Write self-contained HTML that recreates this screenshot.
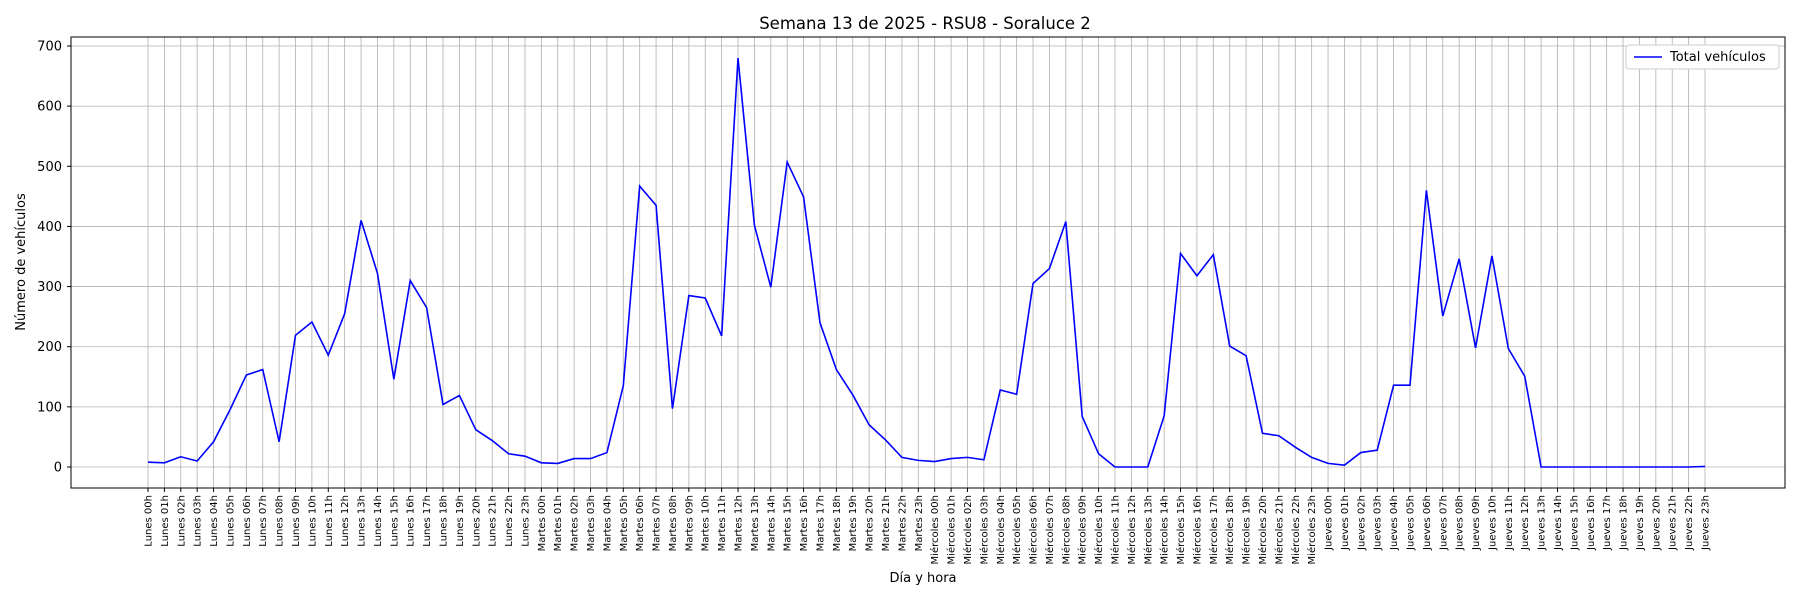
<!DOCTYPE html>
<html><head><meta charset="utf-8"><style>body{margin:0;background:#fff}svg{display:block;font-family:"DejaVu Sans","Liberation Sans",sans-serif}</style></head>
<body>
<svg id="chart" width="1800" height="600" viewBox="0 0 1800 600">
<rect width="1800" height="600" fill="#fff"/>
<text x="925" y="29" font-size="16.5" text-anchor="middle">Semana 13 de 2025 - RSU8 - Soraluce 2</text>
<g id="grid"></g><g id="xticks"></g><g id="yticks"></g>
<polyline id="line" fill="none" stroke="#0000ff" stroke-width="1.6"/>
<rect x="71" y="37" width="1714" height="451" fill="none" stroke="#000" stroke-width="1"/>
<text x="923" y="582" font-size="13" text-anchor="middle">Día y hora</text>
<text transform="translate(25,262) rotate(-90)" font-size="13" text-anchor="middle">Número de vehículos</text>
<g>
<rect x="1626" y="45" width="153" height="24" fill="#fff" stroke="#ccc" rx="3"/>
<line x1="1634" y1="57" x2="1662" y2="57" stroke="#0000ff" stroke-width="1.6"/>
<text x="1670" y="61" font-size="13">Total vehículos</text>
</g>
</svg>
<script>
const days = ["Lunes","Martes","Miércoles","Jueves"];
const values = [8,7,17,10,42,95,153,162,42,219,241,186,255,410,322,146,310,265,104,119,62,44,22,18,
7,6,14,14,24,135,467,435,97,285,281,218,680,402,299,507,449,240,162,120,70,45,16,11,
9,14,16,12,128,121,305,330,408,84,22,0,0,0,85,355,318,353,201,185,56,52,33,16,
6,3,24,28,136,136,460,251,346,198,351,197,151,0,0,0,0,0,0,0,0,0,0,1];
const yTicks = [0,100,200,300,400,500,600,700];
const labels = [];
days.forEach(d=>{for(let h=0;h<24;h++)labels.push(d+" "+String(h).padStart(2,"0")+"h");});
const NS="http://www.w3.org/2000/svg";
const x0=148,x1=1705,yz=467,y7=46;
const sx=i=>x0+(x1-x0)*i/(labels.length-1);
const sy=v=>yz+(y7-yz)*v/700;
const grid=document.getElementById("grid"),xt=document.getElementById("xticks"),yt=document.getElementById("yticks");
labels.forEach((l,i)=>{
 const x=sx(i);
 const g=document.createElementNS(NS,"line");
 
 
 g.setAttribute("x1",x);g.setAttribute("x2",x);g.setAttribute("y1",37);g.setAttribute("y2",488);g.setAttribute("stroke","#b0b0b0");g.setAttribute("stroke-width","0.8");grid.appendChild(g);
 const tk=document.createElementNS(NS,"line");
 
 
 tk.setAttribute("x1",x);tk.setAttribute("x2",x);tk.setAttribute("y1",488);tk.setAttribute("y2",492);tk.setAttribute("stroke","#000");xt.appendChild(tk);
 const t=document.createElementNS(NS,"text");
 
 
 t.setAttribute("transform","translate("+(x+3.5)+",495) rotate(-90)");t.setAttribute("font-size","10");t.setAttribute("text-anchor","end");t.textContent=l;xt.appendChild(t);
});
yTicks.forEach(v=>{
 const y=sy(v);
 const g=document.createElementNS(NS,"line");
 
 
 g.setAttribute("x1",71);g.setAttribute("x2",1785);g.setAttribute("y1",y);g.setAttribute("y2",y);g.setAttribute("stroke","#b0b0b0");g.setAttribute("stroke-width","0.8");grid.appendChild(g);
 const tk=document.createElementNS(NS,"line");
 
 
 tk.setAttribute("x1",67);tk.setAttribute("x2",71);tk.setAttribute("y1",y);tk.setAttribute("y2",y);tk.setAttribute("stroke","#000");yt.appendChild(tk);
 const t=document.createElementNS(NS,"text");
 
 
 t.setAttribute("x",62);t.setAttribute("y",y+4.5);t.setAttribute("font-size","13");t.setAttribute("text-anchor","end");t.textContent=v;yt.appendChild(t);
});
document.getElementById("line").setAttribute("points",values.map((v,i)=>sx(i)+","+sy(v)).join(" "));
</script>
</body></html>
